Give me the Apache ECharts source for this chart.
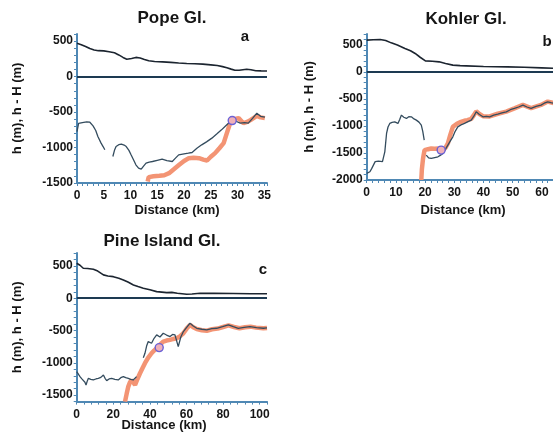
<!DOCTYPE html>
<html>
<head>
<meta charset="utf-8">
<script src="https://cdn.jsdelivr.net/npm/echarts/dist/echarts.min.js"></script>
<style>
html,body{margin:0;padding:0;background:#fff;}
#wrap{position:relative;width:553px;height:438px;overflow:hidden;background:#fff;}
.p{position:absolute;}
</style>
</head>
<body>
<div id="wrap">
  <div id="pa" class="p" style="left:0;top:0;width:280px;height:220px;"></div>
  <div id="pb" class="p" style="left:280px;top:0;width:273px;height:220px;"></div>
  <div id="pc" class="p" style="left:0;top:220px;width:280px;height:218px;"></div>
</div>
<script>
// ---------- Data (distance km, elevation m) ----------
const panelTitles = ['Pope Gl.', 'Kohler Gl.', 'Pine Island Gl.'];
const panelLetters = ['a', 'b', 'c'];
const xAxisName = 'Distance (km)';
const yAxisName = 'h (m), h - H (m)';

const popeSurface = [[0,470],[0.8,450],[1.6,425],[2.4,395],[3.2,375],[4,365],[5,362],[6,350],[7,335],[7.8,305],[8.6,270],[9.3,245],[10.2,255],[11,270],[11.8,262],[12.6,240],[13.4,222],[14.5,212],[16,207],[17.5,200],[19,192],[20.5,185],[22,180],[23.5,175],[25,165],[26.2,155],[27.2,140],[28,125],[28.8,105],[29.5,90],[30.3,90],[31,97],[31.7,103],[32.5,95],[33.4,82],[34.4,80],[35.5,78]];
const popeBed = [[0,-775],[0.3,-660],[1,-650],[1.8,-640],[2.4,-643],[3,-694],[3.5,-760],[3.9,-845],[4.5,-938],[4.9,-990],[5.2,-1032],null,[6.7,-1127],[7,-1040],[7.3,-986],[7.8,-960],[8.3,-952],[8.8,-965],[9.2,-986],[9.7,-1040],[10.1,-1103],[10.6,-1180],[11,-1244],[11.5,-1290],[12,-1305],[12.4,-1265],[12.9,-1220],[13.5,-1205],[14.1,-1197],[15,-1180],[15.9,-1164],[16.8,-1185],[17.8,-1197],[18.4,-1150],[19,-1103],[20,-1090],[20.8,-1080],[21.5,-1070],[22.4,-1010],[23.3,-962],[24.2,-920],[25.2,-868],[26.1,-810],[27,-751],[27.7,-700],[28.3,-657],[28.9,-600],[29.7,-630],[30.5,-657],[31.3,-650],[32,-657],[32.8,-590],[33.6,-516],[34.3,-560],[35.1,-572]];
const popeHydro = [[13.2,-1480],[13.4,-1417],[14.3,-1405],[15.4,-1398],[16.3,-1390],[17.2,-1361],[18.2,-1300],[19.1,-1244],[20,-1190],[20.9,-1150],[21.8,-1145],[22.8,-1150],[23.6,-1170],[24.3,-1183],[25,-1130],[25.8,-1079],[26.6,-1010],[27.4,-938],[28,-797],[28.6,-657],[29.3,-600],[30.2,-586],[31.1,-657],[31.8,-640],[32.4,-614],[33.6,-553],[34.3,-575],[35.1,-586]];
const popeGL = [[29,-620]];

const kohlerSurface = [[0,586],[2.3,595],[4.6,599],[6.5,580],[8.4,536],[10.5,495],[13.1,433],[15,390],[16.6,340],[18.3,270],[20.1,203],[22.5,195],[24.8,185],[27,155],[29.5,124],[32,115],[34.1,111],[40,100],[48.2,92],[54,85],[59.9,74],[65,63],[70,58]];
const kohlerBed = [[0,-1878],[0.5,-1900],[1.1,-1848],[1.7,-1790],[2.3,-1725],[2.9,-1660],[3.4,-1632],[4,-1650],[4.6,-1663],[5.4,-1660],[6.2,-1479],[6.8,-1139],[7.3,-1020],[7.9,-954],[8.7,-935],[9.6,-924],[10.2,-950],[10.7,-954],[11.3,-880],[11.9,-800],[12.7,-840],[13.6,-861],[14.4,-830],[15.3,-831],[16.2,-870],[17,-893],[17.9,-930],[18.7,-985],[19.2,-1100],[19.7,-1262],null,[20.4,-1540],[21.2,-1590],[22.1,-1601],[23.3,-1585],[24.4,-1571],[25.2,-1545],[26.1,-1509],[27,-1430],[27.8,-1355],[28.6,-1280],[29.5,-1201],[30.3,-1100],[31.2,-1017],[32.3,-980],[33.5,-954],[34.7,-920],[35.8,-893],[36.7,-820],[37.5,-739],[38.6,-790],[39.8,-831],[41,-825],[42.1,-831],[43.5,-800],[44.9,-782],[46.3,-760],[47.8,-739],[49.2,-700],[50.6,-677],[52,-650],[53.5,-616],[54.9,-650],[56.3,-677],[58,-640],[59.7,-616],[60.8,-580],[62,-554],[63.1,-570],[64.2,-585],[66,-560],[68,-540],[70,-530]];
const kohlerHydro = [[18.7,-2000],[18.9,-1800],[19.3,-1600],[19.8,-1447],[21,-1430],[22.1,-1417],[23.3,-1420],[24.4,-1417],[25.2,-1430],[26.1,-1447],[27,-1400],[27.8,-1324],[28.6,-1170],[29.5,-1017],[30.9,-960],[32.3,-924],[33.4,-905],[34.5,-893],[35.8,-870],[36.7,-800],[37.5,-730],[38.6,-780],[39.8,-820],[42.1,-825],[44.9,-775],[47.8,-735],[50.6,-675],[53.5,-610],[56.3,-670],[59.7,-612],[62,-550],[64.2,-580],[67,-555],[70,-530]];
const kohlerGL = [[25.5,-1447]];

const pineSurface = [[0,542],[1.8,510],[3.6,464],[6,460],[9.1,449],[11.5,420],[14.6,361],[17,345],[20,334],[23,310],[25.5,283],[28,250],[31,206],[33.5,180],[36.4,155],[40,130],[43.7,102],[46.5,95],[49.2,87],[52,90],[55,78],[60.1,62],[63,65],[67.4,77],[75,75],[85.6,72],[95,70],[104,70]];
const pineBed = [[0,-1136],[1,-1180],[1.8,-1214],[2.7,-1245],[3.6,-1265],[4.5,-1300],[5.1,-1342],[5.8,-1280],[6.4,-1240],[7.7,-1255],[9.1,-1265],[10.5,-1250],[11.8,-1240],[13.2,-1225],[14.6,-1187],[15.5,-1240],[16.4,-1275],[17.7,-1250],[19.1,-1240],[20.9,-1255],[22.7,-1265],[24.1,-1230],[25.5,-1214],[26.8,-1230],[28.2,-1240],[29.5,-1255],[30.9,-1265],[31.8,-1240],[32.7,-1214],null,[36.4,-920],[37.3,-852],[38.2,-740],[39.1,-671],[40,-700],[40.9,-697],[42.3,-620],[43.7,-568],[45.5,-600],[47.3,-542],[49.1,-570],[51,-593],[52.4,-560],[53.7,-568],[55.5,-749],[56.9,-600],[58.3,-516],[60.1,-450],[61.9,-387],[63.7,-430],[65.6,-465],[68.4,-480],[71.1,-490],[73.8,-470],[76.5,-465],[79.7,-440],[82.9,-413],[85.6,-440],[88.3,-465],[91.5,-450],[94.7,-439],[98.3,-455],[102,-465],[104,-460]];
const pineHydro = [[26.4,-1600],[27.3,-1480],[28.2,-1368],[29.1,-1300],[30,-1265],[30.9,-1300],[31.9,-1342],[33.2,-1250],[34.6,-1161],[36,-1080],[37.3,-1006],[39.1,-920],[40.9,-852],[42.3,-810],[43.7,-774],[45.5,-720],[47.3,-671],[49.1,-655],[51,-645],[52.8,-630],[54.6,-620],[56.4,-590],[58.3,-542],[60.1,-470],[61.9,-413],[63.7,-450],[65.6,-477],[68.4,-495],[71.1,-503],[74,-480],[77,-470],[80,-445],[83,-420],[86,-445],[89,-465],[92,-450],[95,-440],[98,-455],[102,-465],[104,-460]];
const pineGL = [[45.1,-764]];

// axis ranges: [min, max, tick step, label step]
const xRanges = [[0,35.5,1,5],[0,70,2,10],[0,104,4,20]];
const yRanges = [[-1500,600],[-2000,700],[-1600,700]];

// ---------- Build (one chart instance per panel) ----------
const FONT = 'Liberation Sans, Arial, sans-serif';
const AXIS_COLOR = '#4f88b4';
const panels = [
  {el:'pa', surface:popeSurface, bed:popeBed, hydro:popeHydro, gl:popeGL,
   grid:{left:77, top:34, width:190, height:149}, nameGap:53,
   title:[172,18], letter:[245,37], xname:[177,210]},
  {el:'pb', surface:kohlerSurface, bed:kohlerBed, hydro:kohlerHydro, gl:kohlerGL,
   grid:{left:86.7, top:34, width:204.4, height:146}, nameGap:51,
   title:[186,19], letter:[267,42], xname:[183,210]},
  {el:'pc', surface:pineSurface, bed:pineBed, hydro:pineHydro, gl:pineGL,
   grid:{left:76.7, top:33, width:190.3, height:148.6}, nameGap:53,
   title:[162,21], letter:[263,50], xname:[164,205]}
];
const toData = arr => arr.map(p => p === null ? ['-','-'] : p);

function txt(text, pos, size) {
  return {type:'text', x:pos[0], y:pos[1],
    style:{text:text, fill:'#151515', font:'bold ' + size + 'px ' + FONT,
      align:'center', verticalAlign:'middle'}};
}

panels.forEach((p, i) => {
  const xr = xRanges[i], yr = yRanges[i];
  const option = {
    animation:false,
    grid:Object.assign({outerBoundsMode:'none'}, p.grid),
    xAxis:{
      type:'value', min:xr[0], max:xr[1], interval:xr[2],
      axisLine:{show:true, onZero:false, lineStyle:{color:AXIS_COLOR, width:2}},
      axisTick:{show:true, length:3, lineStyle:{color:AXIS_COLOR, width:1}},
      splitLine:{show:false},
      axisLabel:{margin:7, color:'#151515', fontWeight:'bold', fontSize:12, fontFamily:FONT,
        formatter: v => (Math.abs(v - Math.round(v / xr[3]) * xr[3]) < 1e-6 ? String(Math.round(v)) : '')}
    },
    yAxis:{
      type:'value', min:yr[0], max:yr[1], interval:100,
      name:yAxisName, nameLocation:'middle', nameRotate:90, nameGap:p.nameGap,
      nameTextStyle:{color:'#151515', fontWeight:'bold', fontSize:13, fontFamily:FONT},
      axisLine:{show:true, onZero:false, lineStyle:{color:AXIS_COLOR, width:2}},
      axisTick:{show:true, length:3, lineStyle:{color:AXIS_COLOR, width:1}},
      splitLine:{show:false},
      axisLabel:{margin:4, color:'#151515', fontWeight:'bold', fontSize:12, fontFamily:FONT,
        formatter: v => (Math.abs(v % 500) < 1e-6 ? String(Math.round(v)) : '')}
    },
    series:[
      {type:'line', data:toData(p.hydro), showSymbol:false, symbol:'none',
       lineStyle:{color:'#f39474', width:4.5}},
      {type:'line', data:toData(p.bed), showSymbol:false, symbol:'none',
       lineStyle:{color:'#344c5e', width:1.3}},
      {type:'line', data:toData(p.surface), showSymbol:false, symbol:'none',
       lineStyle:{color:'#1c2530', width:1.6},
       markLine:{silent:true, symbol:['none','none'], label:{show:false},
         lineStyle:{color:'#1d3a52', width:2.2, type:'solid'}, data:[{yAxis:0}]}},
      {type:'line', data:p.gl, showSymbol:true, symbol:'circle', symbolSize:8,
       lineStyle:{width:0},
       itemStyle:{color:'#f0b0b8', borderColor:'#6b62d6', borderWidth:1.4}}
    ],
    graphic:[
      txt(panelTitles[i], p.title, 17),
      txt(panelLetters[i], p.letter, 15),
      txt(xAxisName, p.xname, 13)
    ]
  };
  echarts.init(document.getElementById(p.el)).setOption(option);
});
</script>
</body>
</html>
